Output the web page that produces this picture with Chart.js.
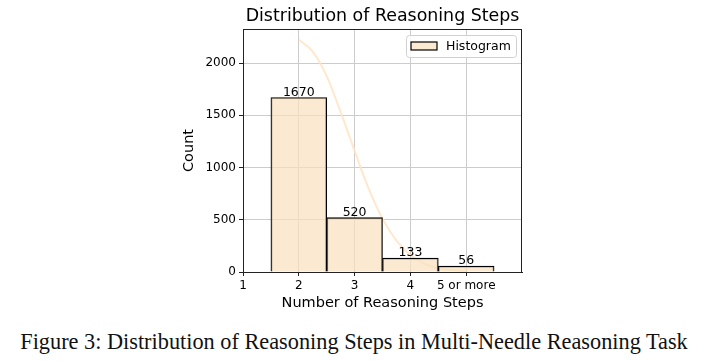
<!DOCTYPE html>
<html>
<head>
<meta charset="utf-8">
<script src="https://cdn.jsdelivr.net/npm/chart.js@4.4.1/dist/chart.umd.min.js"></script>
<style>
  html, body { margin: 0; padding: 0; background: #fff; }
  #wrap { position: relative; width: 708px; height: 362px; overflow: hidden; }
  #box { position: absolute; left: 0; top: 0; width: 708px; height: 318px; }
  #caption {
    position: absolute; left: 0; top: 329px; width: 708px; text-align: center;
    font-family: 'Liberation Serif', serif; font-size: 22.3px; color: #111; white-space: nowrap;
  }
</style>
</head>
<body>
<div id="wrap">
  <div id="box"><canvas id="c"></canvas></div>
  <div id="caption">Figure 3: Distribution of Reasoning Steps in Multi-Needle Reasoning Task</div>
</div>
<script>
// ── DATA ─────────────────────────────────────────────────────
const steps      = [2, 3, 4, 5];
const counts     = [1670, 520, 133, 56];
const tickValues = [1, 2, 3, 4, 5];
const tickLabels = ['1', '2', '3', '4', '5 or more'];
const yTicks     = [0, 500, 1000, 1500, 2000];

// smooth density-like curve
const curveX = [2, 2.25, 2.5, 2.75, 3, 3.25, 3.5, 3.75, 4, 4.25, 4.5, 5];
const curveY = [2223, 2110, 1875, 1530, 1160, 800, 510, 300, 160, 80, 36, 5];

const FONT = "'DejaVu Sans', sans-serif";
const FILL = 'rgba(250,225,190,0.7)';

// ── PLUGINS ──────────────────────────────────────────────────
const decor = {
  id: 'decor',
  afterDatasetsDraw(chart) {
    const { ctx, chartArea: a, scales: { x, y } } = chart;
    ctx.save();
    // bar value labels
    ctx.fillStyle = '#000';
    ctx.font = '12.5px ' + FONT;
    ctx.textAlign = 'center';
    ctx.textBaseline = 'bottom';
    steps.forEach((s, i) => {
      ctx.fillText(String(counts[i]), x.getPixelForValue(s), y.getPixelForValue(counts[i]) + 1);
    });
    // frame
    ctx.strokeStyle = '#222';
    ctx.lineWidth = 1;
    ctx.strokeRect(Math.round(a.left) + 0.5, Math.round(a.top) + 0.5,
                   Math.round(a.right - a.left) - 1, Math.round(a.bottom - a.top));
    // legend
    const lx = 406.5, ly = 35.5, lw = 110, lh = 22;
    ctx.fillStyle = 'rgba(255,255,255,0.85)';
    ctx.strokeStyle = '#d0d0d0';
    ctx.beginPath();
    ctx.roundRect(lx, ly, lw, lh, 3);
    ctx.fill(); ctx.stroke();
    ctx.fillStyle = FILL;
    ctx.fillRect(411, 42, 26, 8);
    ctx.strokeStyle = '#000';
    ctx.lineWidth = 1.2;
    ctx.strokeRect(411, 42, 26, 8);
    ctx.fillStyle = '#000';
    ctx.font = '12.5px ' + FONT;
    ctx.textAlign = 'left';
    ctx.textBaseline = 'middle';
    ctx.fillText('Histogram', 446, 46.5);
    // titles
    ctx.textAlign = 'center';
    ctx.font = '17.4px ' + FONT;
    ctx.fillText('Distribution of Reasoning Steps', (a.left + a.right) / 2, 16);
    ctx.font = '14.5px ' + FONT;
    ctx.fillText('Number of Reasoning Steps', (a.left + a.right) / 2, 303);
    ctx.translate(189, (a.top + a.bottom) / 2);
    ctx.rotate(-Math.PI / 2);
    ctx.fillText('Count', 0, 0);
    ctx.restore();
  }
};

// ── CHART ────────────────────────────────────────────────────
new Chart(document.getElementById('c'), {
  type: 'bar',
  data: {
    datasets: [
      {
        type: 'bar',
        data: steps.map((s, i) => ({ x: s, y: counts[i] })),
        backgroundColor: FILL,
        borderColor: '#000',
        borderWidth: 1.1,
        barPercentage: 1,
        categoryPercentage: 1,
        order: 1,
      },
      {
        type: 'line',
        data: curveX.map((v, i) => ({ x: v, y: curveY[i] })),
        borderColor: 'rgba(255,228,196,0.85)',
        borderWidth: 2,
        pointRadius: 0,
        cubicInterpolationMode: 'monotone',
        fill: false,
        order: 2,
      },
    ],
  },
  options: {
    responsive: true,
    maintainAspectRatio: false,
    animation: false,
    layout: { padding: { left: 183, right: 186, top: 29, bottom: 6 } },
    plugins: {
      legend: { display: false },
      title: { display: false },
      tooltip: { enabled: false },
    },
    scales: {
      x: {
        type: 'linear',
        min: 1, max: 6,
        offset: false,
        afterBuildTicks: s => { s.ticks = tickValues.map(v => ({ value: v })); },
        afterFit: s => { s.height = 40; },
        ticks: {
          color: '#000', font: { family: FONT, size: 12 }, padding: 3,
          autoSkip: false, maxRotation: 0,
          callback: v => tickLabels[tickValues.indexOf(v)],
        },
        grid: { offset: false, color: '#cccccc', lineWidth: 1, tickLength: 4, tickColor: '#222' },
        border: { color: '#222', width: 1 },
      },
      y: {
        min: 0, max: 2326,
        afterBuildTicks: s => { s.ticks = yTicks.map(v => ({ value: v })); },
        afterFit: s => { s.width = 60; },
        ticks: { color: '#000', font: { family: FONT, size: 12 }, padding: 3, callback: v => String(v) },
        grid: { color: '#cccccc', lineWidth: 1, tickLength: 4, tickColor: '#222' },
        border: { color: '#222', width: 1 },
      },
    },
  },
  plugins: [decor],
});
</script>
</body>
</html>
